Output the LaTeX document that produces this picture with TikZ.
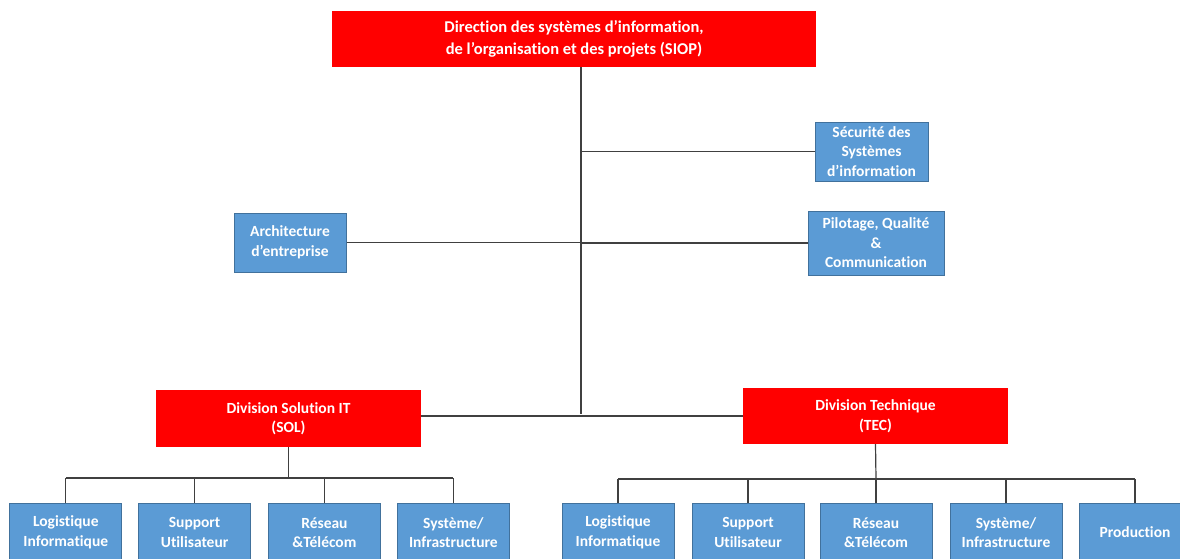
\documentclass[tikz,border=0pt]{standalone}
\usepackage{fontspec}
\setmainfont[Ligatures=NoCommon]{Carlito}
\definecolor{boxblue}{HTML}{5B9BD5}
\definecolor{boxedge}{HTML}{41719C}
\definecolor{linegray}{HTML}{404040}
\begin{document}
\begin{tikzpicture}[x=1pt,y=-1pt,
  redbox/.style={fill=red,draw=none,inner sep=0pt,align=center,text=white,
    font=\bfseries\fontsize{15.5}{19.5}\selectfont},
  bluebox/.style={fill=boxblue,draw=boxedge,line width=1pt,inner sep=0pt,align=center,text=white,
    font=\bfseries\fontsize{15.5}{19.5}\selectfont,minimum width=112pt,minimum height=59pt},
  link/.style={draw=linegray,line width=1.2pt}]
\useasboundingbox (0,0) rectangle (1180,558);
\clip (0,0) rectangle (1180,558);
\fill[white] (0,0) rectangle (1180,558);

\node[redbox,minimum width=484pt,minimum height=56pt,font=\bfseries\fontsize{16.5}{22}\selectfont] (top) at (574,39)
  {Direction des systèmes d’information,\\ de l’organisation et des projets (SIOP)};
\coordinate (j) at (581,416);

\node[bluebox,minimum width=113pt] (sec) at (871.5,151.5) {Sécurité des\\Systèmes\\d’information};
\node[bluebox] (arch) at (290,242.5) {Architecture\\d’entreprise};
\node[bluebox,minimum width=136pt,minimum height=64pt] (pil) at (876,243) {Pilotage, Qualité\\\&\\Communication};

\node[redbox,minimum width=265pt,minimum height=57pt] (sol) at (288.5,418.5) {Division Solution IT\\(SOL)};
\node[redbox,minimum width=265pt,minimum height=56pt] (tec) at (875.5,416) {Division Technique\\(TEC)};

\node[bluebox] (s1) at (65.8,532.5) {Logistique\\Informatique};
\node[bluebox] (s2) at (194.6,532.5) {Support\\Utilisateur};
\node[bluebox] (s3) at (324.4,532.5) {Réseau\\\&Télécom};
\node[bluebox] (s4) at (453.4,532.5) {Système/\\Infrastructure};

\node[bluebox] (t1) at (618,532.5) {Logistique\\Informatique};
\node[bluebox] (t2) at (748,532.5) {Support\\Utilisateur};
\node[bluebox] (t3) at (876,532.5) {Réseau\\\&Télécom};
\node[bluebox] (t4) at (1006,532.5) {Système/\\Infrastructure};
\node[bluebox] (t5) at (1135,532.5) {Production};

\coordinate (sbus) at (288.5,478);
\coordinate (tbus) at (876,479);

\draw[link] (top.south -| j) -- ([yshift=2pt]j);
\draw[link] (sec.west) -- (sec.west -| j);
\draw[link] (arch.east) -- (arch.east -| j);
\draw[link] (pil.west) -- (pil.west -| j);
\draw[link] (sol.east |- j) -- (tec.west |- j);

\draw[link] (sol.south) -- (sbus);
\draw[link] (s1.north |- sbus) -- (s4.north |- sbus);
\foreach \n in {s1,s2,s3,s4} \draw[link] (\n.north) -- (\n.north |- sbus);

\draw[link] (tec.south) -- (tbus);
\draw[link] (t1.north |- tbus) -- (t5.north |- tbus);
\foreach \n in {t1,t2,t3,t4,t5} \draw[link] (\n.north) -- (\n.north |- tbus);
\end{tikzpicture}
\end{document}
